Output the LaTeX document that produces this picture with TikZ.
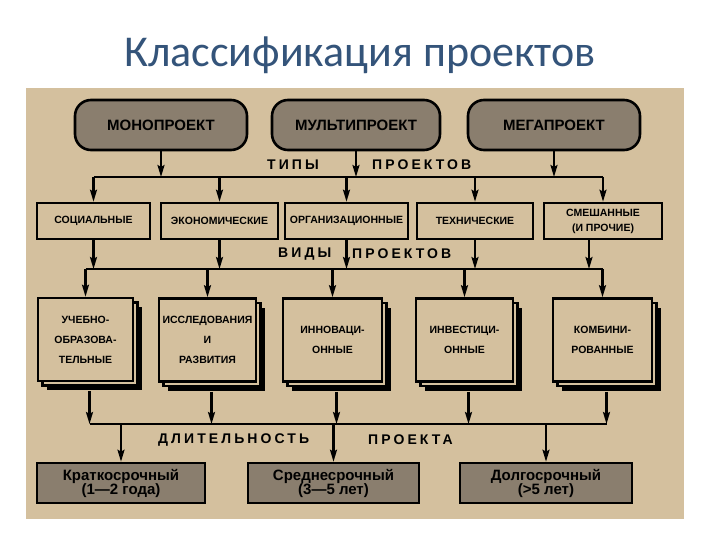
\documentclass[tikz,border=0pt]{standalone}
\usepackage{fontspec}
\setmainfont{Liberation Sans}[BoldFont={Liberation Sans Bold}]
\newfontfamily\titlefont{Carlito}
\usepackage{tikz}
\usetikzlibrary{shapes.geometric, arrows.meta, calc, positioning, shadows}
\definecolor{paper}{RGB}{212,192,158}
\definecolor{halftone}{RGB}{138,126,110}
\definecolor{titleblue}{RGB}{52,84,122}
\tikzstyle{kind} = [rectangle, rounded corners=16pt, line width=2.6pt, draw=black, fill=halftone, minimum height=50pt, inner sep=0pt, font=\bfseries\fontsize{15}{17}\selectfont]
\tikzstyle{type} = [rectangle, line width=2.6pt, draw=black, fill=paper, minimum height=36pt, inner sep=0pt, align=center, font=\bfseries\fontsize{10.5}{15}\selectfont]
\tikzstyle{sort} = [rectangle, line width=2.6pt, draw=black, fill=paper, minimum height=83pt, inner sep=0pt, align=center, font=\bfseries\fontsize{10.5}{20}\selectfont,
	drop shadow={shadow xshift=9pt, shadow yshift=-9pt, fill=black, opacity=1},
	copy shadow={shadow xshift=4.5pt, shadow yshift=-4.5pt, draw=black, fill=paper}]
\tikzstyle{term} = [rectangle, line width=2.6pt, draw=black, fill=halftone, minimum height=40pt, inner sep=0pt, align=center, font=\bfseries\fontsize{15}{14}\selectfont]
\tikzstyle{caption} = [anchor=west, inner sep=0pt, font=\bfseries\fontsize{14}{15}\selectfont\addfontfeature{LetterSpace=22}]
\tikzstyle{arrow} = [line width=2.1pt, -{Stealth[length=12pt, width=7pt, inset=2pt]}]
\tikzstyle{bus} = [line width=2.1pt]

\begin{document}
\begin{tikzpicture}[x=1pt, y=-1pt]
		\useasboundingbox (0,0) rectangle (720,540);
		\fill[white] (0,0) rectangle (720,540);
		\fill[paper] (26,88) rectangle (684,519);
		\node (Title) [anchor=base, text=titleblue, font=\titlefont\fontsize{44}{44}\selectfont] at (360,67) {Классификация проектов};
		\node (Mono) [kind, minimum width=172pt] at (161,125) {МОНОПРОЕКТ};
		\node (Multi) [kind, minimum width=168pt] at (356,125) {МУЛЬТИПРОЕКТ};
		\node (Mega) [kind, minimum width=172pt] at (554,125) {МЕГАПРОЕКТ};
		\node (Social) [type, minimum width=113pt] at (93.5,221) {СОЦИАЛЬНЫЕ};
		\node (Economic) [type, minimum width=117pt] at (219.5,221) {ЭКОНОМИЧЕСКИЕ};
		\node (Organizational) [type, minimum width=123pt] at (346.5,221) {ОРГАНИЗАЦИОННЫЕ};
		\node (Technical) [type, minimum width=116pt] at (475,221) {ТЕХНИЧЕСКИЕ};
		\node (Mixed) [type, minimum width=118pt] at (603,221) {СМЕШАННЫЕ\\(И ПРОЧИЕ)};
		\node (Educational) [sort, minimum width=95pt] at (85.5,339.5) {УЧЕБНО-\\ОБРАЗОВА-\\ТЕЛЬНЫЕ};
		\node (Research) [sort, minimum width=97pt] at (207.5,340) {ИССЛЕДОВАНИЯ\\И\\РАЗВИТИЯ};
		\node (Innovative) [sort, minimum width=99pt] at (332.5,340) {ИННОВАЦИ-\\ОННЫЕ};
		\node (Investment) [sort, minimum width=97pt] at (464.5,340) {ИНВЕСТИЦИ-\\ОННЫЕ};
		\node (Combined) [sort, minimum width=99pt] at (602.5,340) {КОМБИНИ-\\РОВАННЫЕ};
		\node (Short) [term, minimum width=168pt] at (121,483) {Краткосрочный\\(1—2 года)};
		\node (Medium) [term, minimum width=171pt] at (333.5,483) {Среднесрочный\\(3—5 лет)};
		\node (Long) [term, minimum width=172pt] at (546,483) {Долгосрочный\\(>5 лет)};
		\node (TypesA) [caption] at (267,165) {ТИПЫ};
		\node (TypesB) [caption] at (372,165) {ПРОЕКТОВ};
		\node (SortsA) [caption] at (278,254) {ВИДЫ};
		\node (SortsB) [caption] at (352,254) {ПРОЕКТОВ};
		\node (TermA) [caption] at (158,440) {ДЛИТЕЛЬНОСТЬ};
		\node (TermB) [caption] at (368,440) {ПРОЕКТА};
		\coordinate (TypeBus) at (0,177);
		\coordinate (SortBus) at (0,269);
		\coordinate (TermBus) at (0,424);
		\draw [bus] (Social.north |- TypeBus) -- (Mixed.north |- TypeBus);
		\draw [bus] (Educational.north |- SortBus) -- (Combined.north |- SortBus);
		\draw [bus] ([xshift=4pt]Educational.south |- TermBus) -- ([xshift=4pt]Combined.south |- TermBus);
		\foreach \n in {Mono, Multi, Mega}
			\draw [arrow] (\n.south) -- (\n.south |- TypeBus);
		\foreach \n in {Social, Economic, Organizational, Technical, Mixed}
			\draw [arrow] (\n.north |- TypeBus) -- (\n.north);
		\foreach \n in {Social, Economic, Organizational, Technical}
			\draw [arrow] (\n.south) -- (\n.south |- SortBus);
		\draw [arrow] ([xshift=-14pt]Mixed.south) -- ([xshift=-14pt]Mixed.south |- SortBus);
		\foreach \n in {Educational, Research, Innovative, Investment, Combined}
			\draw [arrow] (\n.north |- SortBus) -- (\n.north);
		\foreach \n in {Educational, Research, Innovative, Investment, Combined}
			\draw [arrow] ([xshift=4pt, yshift=-9pt]\n.south) -- ([xshift=4pt]\n.south |- TermBus);
		\foreach \n in {Short, Medium, Long}
			\draw [arrow] (\n.north |- TermBus) -- (\n.north);
\end{tikzpicture}
\end{document}
